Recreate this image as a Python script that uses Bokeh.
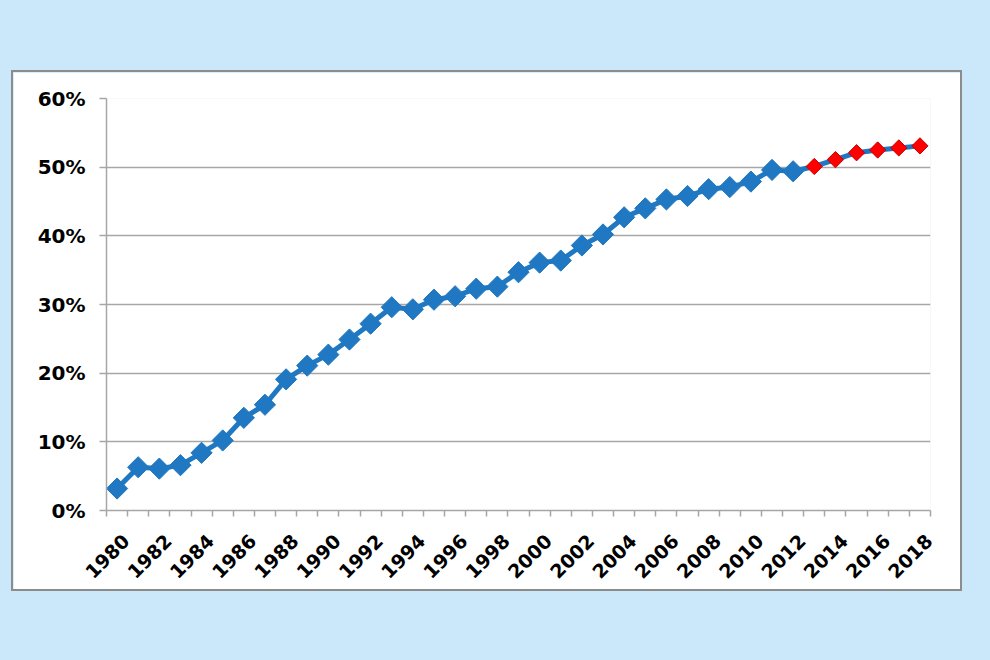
import math
from bokeh.plotting import figure
from bokeh.models import FixedTicker, NumeralTickFormatter, Range1d, CustomJSTickFormatter, Spacer
from bokeh.layouts import column, row
from bokeh.embed import file_html
from bokeh.resources import INLINE

# ---- data ----
years = list(range(1980, 2019))
share_pct = [3.2, 6.3, 6.1, 6.6, 8.4, 10.2, 13.5, 15.4, 19.1, 21.1,
             22.7, 24.9, 27.2, 29.6, 29.3, 30.7, 31.2, 32.3, 32.6, 34.7,
             36.1, 36.4, 38.6, 40.2, 42.7, 44.0, 45.3, 45.8, 46.8, 47.1,
             47.9, 49.6, 49.4, 50.1, 51.1, 52.1, 52.5, 52.8, 53.1]
last_actual_year = 2012
y_ticks = [0, 0.1, 0.2, 0.3, 0.4, 0.5, 0.6]
x_label_years = years[::2]

share = [v / 100 for v in share_pct]
act_x = [y for y in years if y <= last_actual_year]
act_y = [s for y, s in zip(years, share) if y <= last_actual_year]
proj_x = [y for y in years if y > last_actual_year]
proj_y = [s for y, s in zip(years, share) if y > last_actual_year]

BLUE = "#1f78c1"
GRID = "#a6a6a6"
FONT = "DejaVu Sans"
BG = "#cbe8fb"
LABEL_SHIFT = 0.42  # rotated labels sit slightly right of the category centre

p = figure(width=951, height=521, output_backend="svg", toolbar_location=None,
           x_range=Range1d(years[0] - 0.5, years[-1] + 0.5),
           y_range=Range1d(0, 0.6),
           min_border_left=93, min_border_right=34,
           min_border_top=26, min_border_bottom=83)
p.styles = {"border": "2px solid #8c8c8c"}
p.border_fill_color = "white"
p.background_fill_color = "white"
p.outline_line_color = None

# y axis
p.yaxis.ticker = FixedTicker(ticks=y_ticks)
p.yaxis.formatter = NumeralTickFormatter(format="0%")
p.yaxis.axis_line_color = GRID
p.yaxis.axis_line_width = 1.5
p.yaxis.major_tick_line_color = GRID
p.yaxis.major_tick_line_width = 1.5
p.yaxis.major_tick_out = 7
p.yaxis.major_tick_in = 0
p.yaxis.minor_tick_line_color = None
p.yaxis.major_label_standoff = 14
p.yaxis.major_label_text_font = FONT
p.yaxis.major_label_text_font_style = "bold"
p.yaxis.major_label_text_font_size = "20px"
p.yaxis.major_label_text_color = "black"

# x axis (category-style: ticks between years, labels on every other year)
boundaries = [y - 0.5 for y in years] + [years[-1] + 0.5]
p.xaxis.ticker = FixedTicker(ticks=[y + LABEL_SHIFT for y in x_label_years],
                             minor_ticks=boundaries)
p.xaxis.formatter = CustomJSTickFormatter(code="return String(Math.round(tick - %s));" % LABEL_SHIFT)
p.xaxis.axis_line_color = GRID
p.xaxis.axis_line_width = 1.5
p.xaxis.major_tick_line_color = None
p.xaxis.major_tick_out = 0
p.xaxis.major_tick_in = 0
p.xaxis.minor_tick_line_color = GRID
p.xaxis.minor_tick_line_width = 1.5
p.xaxis.minor_tick_out = 6
p.xaxis.minor_tick_in = 0
p.xaxis.major_label_orientation = math.pi / 4
p.xaxis.major_label_standoff = 21
p.xaxis.major_label_text_font = FONT
p.xaxis.major_label_text_font_style = "bold"
p.xaxis.major_label_text_font_size = "19px"
p.xaxis.major_label_text_color = "black"

p.xgrid.grid_line_color = None
p.ygrid.grid_line_color = GRID
p.ygrid.grid_line_width = 1.5

# series
p.line(years, share, line_color=BLUE, line_width=5)
p.scatter(act_x, act_y, marker="square", angle=math.pi / 4, size=15,
          fill_color=BLUE, line_color=BLUE)
p.scatter(proj_x, proj_y, marker="square", angle=math.pi / 4, size=11.5,
          fill_color="#ff0000", line_color="#c80000", line_width=1)

root = column(Spacer(width=980, height=70),
              row(Spacer(width=11, height=525), p),
              styles={"background-color": BG})

html = file_html(root, INLINE)
html = html.replace("<html", '<html style="background-color:%s; overflow:hidden;"' % BG, 1)
html = html.replace("<body>", '<body style="background-color:%s;">' % BG, 1)
open("out.html", "w").write(html)
